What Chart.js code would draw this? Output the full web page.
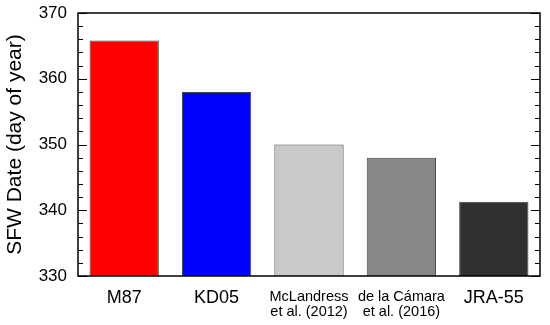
<!DOCTYPE html>
<html>
<head>
<meta charset="utf-8">
<script src="https://cdn.jsdelivr.net/npm/chart.js@4"></script>
<style>
  html, body { margin: 0; padding: 0; background: #fff; }
</style>
</head>
<body>
<canvas id="sfwChart" width="550" height="325"></canvas>
<script>
// data
const categories = ['M87', 'KD05', ['McLandress', 'et al. (2012)'], ['de la Cámara', 'et al. (2016)'], 'JRA-55'];
const sfwDates = [365.8, 358.0, 350.0, 348.0, 341.3];
const barColors = ['#ff0000', '#0000ff', '#c8c9c8', '#888888', '#303030'];
const yTicks = [330, 340, 350, 360, 370];

// box around the plot + inward ticks (major every 10, minor every 2)
const frame = {
    id: 'frame',
    afterDatasetsDraw(chart) {
        const ctx = chart.ctx;
        const a = chart.chartArea;
        const y = chart.scales.y;
        ctx.save();
        ctx.strokeStyle = '#000';
        ctx.lineWidth = 1.5;
        ctx.strokeRect(a.left, a.top, a.right - a.left, a.bottom - a.top);
        ctx.lineWidth = 1;
        for (let v = yTicks[0]; v <= yTicks[yTicks.length - 1]; v += 2) {
            const py = Math.round(y.getPixelForValue(v)) + 0.5;
            const len = v % 10 === 0 ? 9 : 5;
            ctx.beginPath();
            ctx.moveTo(a.left, py);
            ctx.lineTo(a.left + len, py);
            ctx.moveTo(a.right, py);
            ctx.lineTo(a.right - len, py);
            ctx.stroke();
        }
        ctx.restore();
    }
};

const ctx = document.getElementById('sfwChart').getContext('2d');
const sfwChart = new Chart(ctx, {
    type: 'bar',
    data: {
        labels: categories,
        datasets: [{
            data: sfwDates,
            backgroundColor: barColors,
            borderColor: '#444',
            borderWidth: 1,
            borderSkipped: false,
            barPercentage: 0.75,
            categoryPercentage: 1.0
        }]
    },
    options: {
        responsive: false,
        animation: false,
        layout: { padding: { top: 13, right: 10, left: 0, bottom: 0 } },
        plugins: {
            legend: { display: false },
            tooltip: { enabled: false }
        },
        scales: {
            x: {
                grid: { display: false, drawTicks: false },
                border: { display: false },
                ticks: {
                    color: '#000',
                    padding: 13,
                    maxRotation: 0,
                    autoSkip: false,
                    font: (c) => (c.index === 2 || c.index === 3)
                        ? { family: 'Liberation Sans, Arial, sans-serif', size: 14.5, lineHeight: 1.05 }
                        : { family: 'Liberation Sans, Arial, sans-serif', size: 18, lineHeight: 1.0 }
                },
                afterFit: (s) => { s.height = 49; }
            },
            y: {
                min: 330,
                max: 370,
                grid: { display: false, drawTicks: false },
                border: { display: false },
                afterBuildTicks: (s) => { s.ticks = yTicks.map(v => ({ value: v })); },
                ticks: {
                    color: '#000',
                    padding: 11,
                    font: { family: 'Liberation Sans, Arial, sans-serif', size: 17 }
                },
                title: {
                    display: true,
                    text: 'SFW Date (day of year)',
                    color: '#000',
                    padding: { top: 3, bottom: 0 },
                    font: { family: 'Liberation Sans, Arial, sans-serif', size: 21 }
                },
                afterFit: (s) => { s.width = 78; s.paddingTop = 0; s.paddingBottom = 0; }
            }
        }
    },
    plugins: [frame]
});
</script>
</body>
</html>
